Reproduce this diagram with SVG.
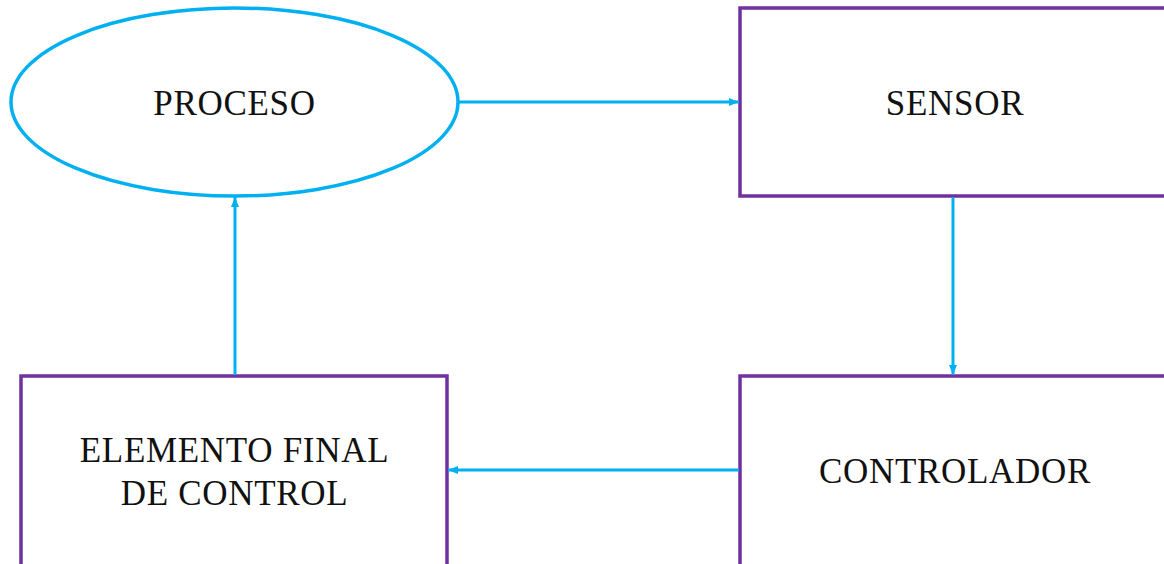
<svg xmlns="http://www.w3.org/2000/svg" width="1164" height="564" viewBox="0 0 1164 564">
<style>
.box{fill:#fff;stroke:#7030A0;stroke-width:3.5}
.ell{fill:#fff;stroke:#00B0F0;stroke-width:3.5}
.lbl{font-family:"Liberation Serif","Times New Roman",serif;font-size:35px;letter-spacing:0.7px;fill:#111;text-anchor:middle}
.con{stroke:#00B0F0;stroke-width:3;fill:none;marker-end:url(#ah)}
</style>
<defs>
<marker id="ah" markerWidth="10" markerHeight="8" refX="10" refY="4" orient="auto" markerUnits="userSpaceOnUse">
<path d="M0,0 L10,4 L0,8 Z" fill="#00B0F0"/>
</marker>
</defs>
<rect width="1164" height="564" fill="#fff"/>
<g id="proceso">
<ellipse class="ell" cx="234.5" cy="102" rx="223.5" ry="94"/>
<text class="lbl" x="234.5" y="115">PROCESO</text>
</g>
<g id="sensor">
<rect class="box" x="740" y="8" width="440" height="188"/>
<text class="lbl" x="955" y="115">SENSOR</text>
</g>
<g id="controlador">
<rect class="box" x="740" y="376" width="440" height="200"/>
<text class="lbl" x="955" y="483">CONTROLADOR</text>
</g>
<g id="elemento">
<rect class="box" x="21" y="376" width="426" height="200"/>
<text class="lbl" x="234.5" y="462">ELEMENTO FINAL</text>
<text class="lbl" x="234.5" y="505">DE CONTROL</text>
</g>
<g id="connectors">
<line class="con" x1="458" y1="102" x2="739" y2="102"/>
<line class="con" x1="953" y1="197" x2="953" y2="375"/>
<line class="con" x1="739" y1="470" x2="448" y2="470"/>
<line class="con" x1="235" y1="375" x2="235" y2="197"/>
</g>
</svg>
